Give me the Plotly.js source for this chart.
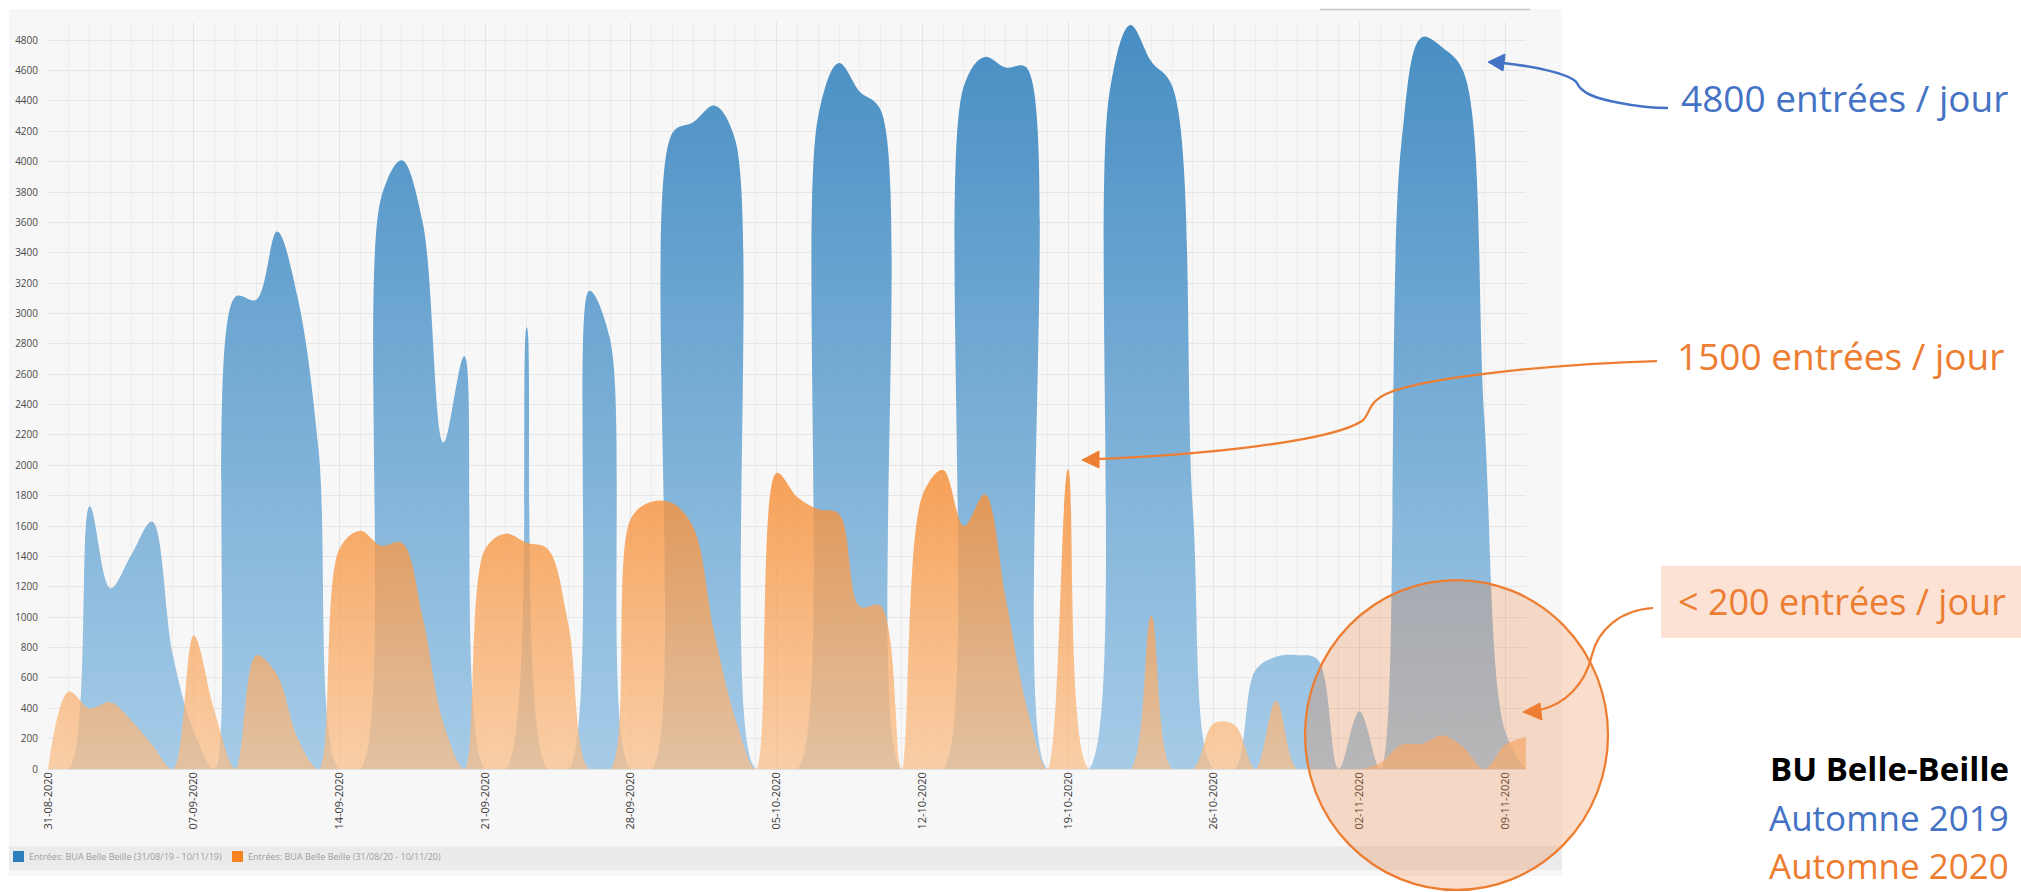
<!DOCTYPE html>
<html><head><meta charset="utf-8">
<script src="https://cdn.plot.ly/plotly-3.0.1.min.js"></script>
<style>html,body{margin:0;padding:0;background:#fff;}#chart{width:2021px;height:892px;}</style>
</head><body><div id="chart"></div>
<script>
// ---- data ----
const dates = ['2020-08-31',
 '2020-09-01','2020-09-02','2020-09-03','2020-09-04','2020-09-05','2020-09-06','2020-09-07','2020-09-08','2020-09-09','2020-09-10',
 '2020-09-11','2020-09-12','2020-09-13','2020-09-14','2020-09-15','2020-09-16','2020-09-17','2020-09-18','2020-09-19','2020-09-20',
 '2020-09-21','2020-09-22','2020-09-23','2020-09-24','2020-09-25','2020-09-26','2020-09-27','2020-09-28','2020-09-29','2020-09-30',
 '2020-10-01','2020-10-02','2020-10-03','2020-10-04','2020-10-05','2020-10-06','2020-10-07','2020-10-08','2020-10-09','2020-10-10',
 '2020-10-11','2020-10-12','2020-10-13','2020-10-14','2020-10-15','2020-10-16','2020-10-17','2020-10-18','2020-10-19','2020-10-20',
 '2020-10-21','2020-10-22','2020-10-23','2020-10-24','2020-10-25','2020-10-26','2020-10-27','2020-10-28','2020-10-29','2020-10-30',
 '2020-10-31','2020-11-01','2020-11-02','2020-11-03','2020-11-04','2020-11-05','2020-11-06','2020-11-07','2020-11-08','2020-11-09',
 '2020-11-10'];
const entries2019 = [0,0,1730,1190,1410,1630,750,250,0,3110,
 3090,3540,3100,2100,0,0,3760,4010,3600,2150,
 2720,0,0,2910,0,0,3150,2830,0,0,
 4190,4260,4370,4150,0,0,0,4300,4650,4460,
 4340,0,0,0,4500,4690,4620,4620,0,0,
 0,4460,4900,4660,4500,1700,0,0,650,740,
 750,720,0,380,0,4100,4820,4750,4590,2300,
 250,0];
const entries2020 = [0,510,400,440,320,160,0,880,380,0,
 750,620,200,0,1450,1570,1470,1490,1000,300,
 0,1450,1550,1490,1450,950,0,0,1650,1760,
 1750,1590,900,340,0,1950,1790,1710,1680,1070,
 1075,0,1800,1970,1600,1810,1130,420,0,1975,
 0,0,0,1010,0,0,300,290,0,450,
 0,0,0,0,40,160,165,220,140,0,
 160,210];
const tickVals = ['2020-08-31','2020-09-07','2020-09-14','2020-09-21','2020-09-28','2020-10-05','2020-10-12','2020-10-19','2020-10-26','2020-11-02','2020-11-09'];
const tickText = ['31-08-2020','07-09-2020','14-09-2020','21-09-2020','28-09-2020','05-10-2020','12-10-2020','19-10-2020','26-10-2020','02-11-2020','09-11-2020'];
const legendNames = ['Entrées: BUA Belle Beille (31/08/19 - 10/11/19)','Entrées: BUA Belle Beille (31/08/20 - 10/11/20)'];
const noteTexts = ['4800 entrées / jour','1500 entrées / jour','< 200 entrées / jour'];
const sideTitle = 'BU Belle-Beille';
const sideYears = ['Automne 2019','Automne 2020'];

// ---- layout geometry (pixels) ----
const W = 2021, H = 892, ML = 48, MR = 495, MT = 22, MB = 123;
const PW = W - ML - MR, PH = H - MT - MB, Y0 = H - MB;
const P = x => (x - ML) / PW;
const Q = y => (Y0 - y) / PH;
function path(segs, close){
  let s = '';
  segs.forEach(seg => {
    s += seg[0] + ' ';
    for (let i = 1; i < seg.length; i += 2) s += P(seg[i]).toFixed(5) + ',' + Q(seg[i+1]).toFixed(5) + ' ';
  });
  return s + (close ? 'Z' : '');
}
const BLUE = '#4472c4', ORANGE = '#ed7d31';

const traces = [
  {x: dates, y: entries2019, type: 'scatter', mode: 'lines', name: legendNames[0],
   line: {shape: 'spline', smoothing: 1, width: 0, color: '#4a90c4'}, fill: 'tozeroy',
   fillgradient: {type: 'vertical', start: 0, stop: 4900,
     colorscale: [[0, 'rgba(160,200,230,0.93)'], [1, 'rgba(62,136,192,0.95)']]},
   hoverinfo: 'skip', showlegend: false},
  {x: dates, y: entries2020, type: 'scatter', mode: 'lines', name: legendNames[1],
   line: {shape: 'spline', smoothing: 1, width: 0, color: '#f5963f'}, fill: 'tozeroy',
   fillgradient: {type: 'vertical', start: 0, stop: 2000,
     colorscale: [[0, 'rgba(250,190,135,0.72)'], [1, 'rgba(246,140,50,0.82)']]},
   hoverinfo: 'skip', showlegend: false}
];

const shapes = [
  {type: 'rect', xref: 'paper', yref: 'paper', x0: P(9), x1: P(1562), y0: Q(876), y1: Q(9), fillcolor: '#f7f7f7', line: {width: 0}, layer: 'below'},
  {type: 'rect', xref: 'paper', yref: 'paper', x0: P(9), x1: P(1562), y0: Q(870), y1: Q(846), fillcolor: '#ebebeb', line: {width: 0}, layer: 'below'},
  {type: 'line', xref: 'paper', yref: 'paper', x0: P(1320), x1: P(1530), y0: Q(9.5), y1: Q(9.5), line: {color: '#c8c8c8', width: 1.5}},
  {type: 'rect', xref: 'paper', yref: 'paper', x0: P(13), x1: P(24), y0: Q(862), y1: Q(851), fillcolor: '#2f7ebc', line: {width: 0}},
  {type: 'rect', xref: 'paper', yref: 'paper', x0: P(232), x1: P(243), y0: Q(862), y1: Q(851), fillcolor: '#f7821f', line: {width: 0}},
  // highlight circle
  {type: 'circle', xref: 'paper', yref: 'paper', x0: P(1305), x1: P(1608), y0: Q(890), y1: Q(580), fillcolor: 'rgba(237,125,49,0.26)', line: {color: ORANGE, width: 2.25}, layer: 'above'},
  // box behind "< 200"
  {type: 'rect', xref: 'paper', yref: 'paper', x0: P(1661), x1: P(2030), y0: Q(638), y1: Q(566), fillcolor: '#fbe2d5', line: {width: 0}},
  // blue connector
  {type: 'path', xref: 'paper', yref: 'paper', path: path([['M',1503,63],['C',1530,66,1570,73,1577,83],['C',1581,92,1592,98,1620,103],['C',1640,107,1655,108,1668,108]]), line: {color: BLUE, width: 2.5}},
  {type: 'path', xref: 'paper', yref: 'paper', path: path([['M',1488,62],['L',1505,54],['L',1503,71]], true), fillcolor: BLUE, line: {color: BLUE, width: 1}},
  // orange connector 1500
  {type: 'path', xref: 'paper', yref: 'paper', path: path([['M',1097,459],['C',1200,455,1330,442,1362,421],['C',1371,414,1366,404,1386,394],['C',1420,378,1550,364,1657,361]]), line: {color: ORANGE, width: 2.25}},
  {type: 'path', xref: 'paper', yref: 'paper', path: path([['M',1082,460],['L',1099,451],['L',1099,468]], true), fillcolor: ORANGE, line: {color: ORANGE, width: 1}},
  // orange connector < 200
  {type: 'path', xref: 'paper', yref: 'paper', path: path([['M',1653,608],['C',1620,610,1598,630,1592,655],['C',1585,685,1565,704,1540,710]]), line: {color: ORANGE, width: 2.25}},
  {type: 'path', xref: 'paper', yref: 'paper', path: path([['M',1523,712],['L',1540,703],['L',1542,720]], true), fillcolor: ORANGE, line: {color: ORANGE, width: 1}}
];

function note(text, x, baseline, size, color, bold){
  return {text: bold ? '<b>' + text + '</b>' : text, xref: 'paper', yref: 'paper', x: P(x), y: Q(baseline - 0.388 * size),
    xanchor: 'left', yanchor: 'middle', showarrow: false, borderpad: 0, borderwidth: 0,
    font: {family: 'Open Sans, sans-serif', size: size, color: color}};
}
const annotations = [
  note(noteTexts[0], 1681, 112, 37, BLUE),
  note(noteTexts[1], 1677, 370, 37, ORANGE),
  note(noteTexts[2], 1678, 615, 36, ORANGE),
  note(sideTitle, 1770, 781, 33, '#000000', true),
  note(sideYears[0], 1769, 831, 35, BLUE),
  note(sideYears[1], 1769, 879, 35, ORANGE),
  {text: legendNames[0], xref: 'paper', yref: 'paper', x: P(28), y: Q(857), xanchor: 'left', yanchor: 'middle', showarrow: false, borderpad: 0, font: {family: 'Open Sans, sans-serif', size: 9, color: '#9d9d9d'}},
  {text: legendNames[1], xref: 'paper', yref: 'paper', x: P(247), y: Q(857), xanchor: 'left', yanchor: 'middle', showarrow: false, borderpad: 0, font: {family: 'Open Sans, sans-serif', size: 9, color: '#9d9d9d'}}
];

const layout = {
  width: W, height: H,
  margin: {l: ML, r: MR, t: MT, b: MB, pad: 0},
  paper_bgcolor: '#ffffff', plot_bgcolor: '#fafafa',
  showlegend: false,
  xaxis: {type: 'date', range: ['2020-08-31', '2020-11-10'], tickmode: 'array', tickvals: tickVals, ticktext: tickText,
    tickangle: -90, tickfont: {family: 'Open Sans, sans-serif', size: 11, color: '#3a3a3a'},
    showgrid: true, gridcolor: '#e3e3e3', gridwidth: 1, zeroline: false, showline: false, ticks: '',
    minor: {tickmode: 'linear', tick0: '2020-08-31', dtick: 86400000, showgrid: true, gridcolor: '#ebebeb', gridwidth: 1},
    fixedrange: true},
  yaxis: {range: [0, 4920], tickmode: 'linear', tick0: 0, dtick: 200, showgrid: true, gridcolor: '#e6e6e6', gridwidth: 1,
    zeroline: true, zerolinecolor: '#e0e0e0', zerolinewidth: 1, showline: false, ticks: '', ticklabelstandoff: 9,
    tickfont: {family: 'Open Sans, sans-serif', size: 10, color: '#4a4a4a'}, fixedrange: true},
  shapes: shapes, annotations: annotations
};

Plotly.newPlot('chart', traces, layout, {staticPlot: true, displayModeBar: false});
</script>
</body></html>
